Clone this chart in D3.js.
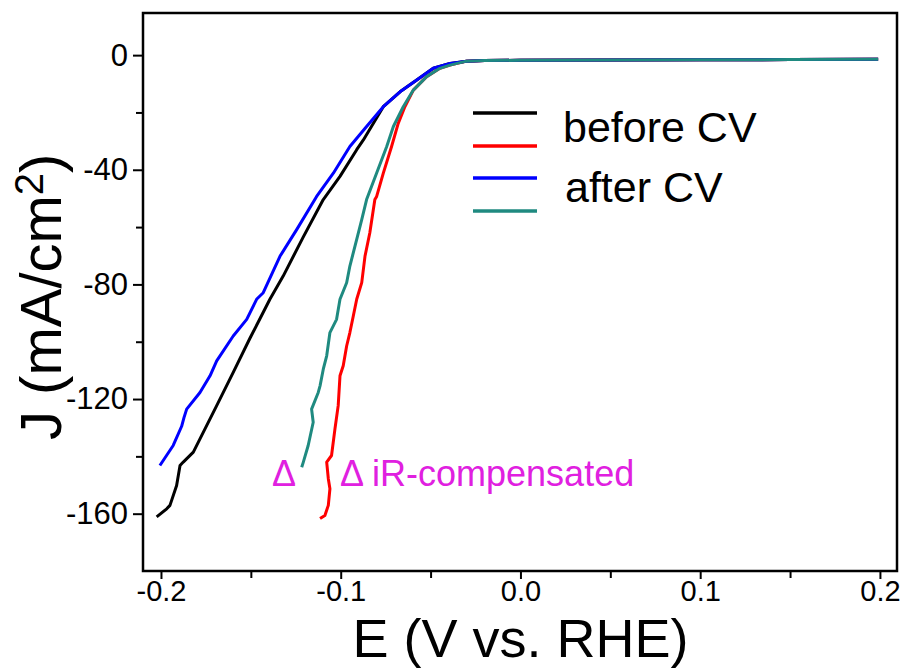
<!DOCTYPE html>
<html>
<head>
<meta charset="utf-8">
<script src="https://cdn.jsdelivr.net/npm/d3@7"></script>
<style>
  body { margin: 0; background: #fff; }
  svg text { font-family: "Liberation Sans", Arial, sans-serif; }
</style>
</head>
<body>
<div id="chart"></div>
<script>
// [E (V vs. RHE), J (mA/cm2)]
const flatTail = [[-0.03, -2.1], [-0.02, -1.9], [0.0, -1.8], [0.05, -1.7], [0.1, -1.65], [0.15, -1.55], [0.199, -1.45]];

const beforeCV = [
    [-0.2024, -161.1], [-0.1968, -158.3], [-0.195, -157.1], [-0.1913, -150.2], [-0.1894, -143.2],
    [-0.1876, -142], [-0.182, -138.5], [-0.1783, -133.9], [-0.169, -122.3], [-0.1598, -110.7],
    [-0.1505, -98.8], [-0.1394, -85.2], [-0.132, -77.1], [-0.1208, -63.4], [-0.1097, -50.4],
    [-0.1004, -42.3], [-0.0911, -33], [-0.0874, -29.6], [-0.0763, -18], [-0.067, -12.8],
    [-0.0577, -8.7], [-0.0485, -4.6], [-0.0392, -2.9]
].concat(flatTail);

const beforeCVir = [
    [-0.1115, -161.7], [-0.1088, -160.6], [-0.1069, -157.1], [-0.106, -151.3], [-0.1069, -147.8],
    [-0.1078, -142], [-0.1051, -139.7], [-0.1032, -130.4], [-0.1014, -122.3], [-0.1004, -111.9],
    [-0.0986, -108.4], [-0.0967, -101.5], [-0.0949, -96.8], [-0.093, -91], [-0.0911, -85.2],
    [-0.0883, -79.4], [-0.0865, -70.2], [-0.0838, -62], [-0.081, -50.4],
    [-0.08, -49.3], [-0.0763, -41.2], [-0.0717, -31.9], [-0.068, -23.8], [-0.0643, -18],
    [-0.0596, -12.2], [-0.0522, -7.5], [-0.0448, -4.6], [-0.0392, -3.5]
].concat(flatTail);

const afterCV = [
    [-0.2006, -143.2], [-0.1932, -136.2], [-0.1885, -129.5], [-0.1872, -126.5], [-0.1857, -123.5],
    [-0.1783, -117.7], [-0.1727, -111.9], [-0.169, -106.7], [-0.1598, -98], [-0.1523, -92.2],
    [-0.1468, -85.2], [-0.1431, -82.9], [-0.1338, -70.2], [-0.1245, -60.9], [-0.1134, -49.3],
    [-0.1041, -41.2], [-0.0949, -31.9], [-0.0856, -24.9], [-0.0763, -18], [-0.067, -12.8],
    [-0.0577, -8.7], [-0.0485, -4.6], [-0.0392, -2.9]
].concat(flatTail);

const afterCVir = [
    [-0.1217, -143.8], [-0.1208, -142], [-0.1181, -136.2], [-0.1153, -128.1], [-0.1162, -123.5],
    [-0.1125, -117.7], [-0.1115, -115.4], [-0.1097, -109.6], [-0.1078, -104.9], [-0.106, -96.8],
    [-0.1023, -92.2], [-0.1004, -85.2], [-0.0967, -79.4], [-0.0949, -73.6], [-0.0911, -64.3],
    [-0.0883, -57.4], [-0.0856, -50.4], [-0.08, -41.1], [-0.0744, -31.9], [-0.0707, -24.9],
    [-0.0652, -18], [-0.0596, -12.2], [-0.0522, -7.5], [-0.0448, -4.6], [-0.0392, -3.5]
].concat(flatTail);

const seriesList = [
    { name: "before CV", data: beforeCV, color: "#000000" },
    { name: "before CV iR", data: beforeCVir, color: "#ff0000" },
    { name: "after CV", data: afterCV, color: "#0000ff" },
    { name: "after CV iR", data: afterCVir, color: "#1f8a80" }
];

const xMajor = [-0.2, -0.1, 0.0, 0.1, 0.2];
const xMinor = [-0.15, -0.05, 0.05, 0.15];
const yMajor = [0, -40, -80, -120, -160];
const yMinor = [-20, -60, -100, -140];
const legendLabels = ["before CV", "after CV"];

const width = 911, height = 668;
const margin = { top: 13, right: 14, bottom: 97, left: 143 };

const svg = d3.select("#chart").append("svg")
    .attr("width", width)
    .attr("height", height);

const x = d3.scaleLinear()
    .domain([-0.21, 0.2095])
    .range([margin.left, width - margin.right]);

const y = d3.scaleLinear()
    .domain([-180, 14.7])
    .range([height - margin.bottom, margin.top]);

// plain hyphen instead of d3's unicode minus
const fmtX = d => d.toFixed(1).replace("\u2212", "-");
const fmtY = d => String(d);

// minor ticks
svg.append("g")
    .attr("transform", `translate(0,${height - margin.bottom})`)
    .call(d3.axisBottom(x).tickValues(xMinor).tickSize(7).tickFormat(""))
    .call(g => g.select(".domain").remove());
svg.append("g")
    .attr("transform", `translate(${margin.left},0)`)
    .call(d3.axisLeft(y).tickValues(yMinor).tickSize(7).tickFormat(""))
    .call(g => g.select(".domain").remove());

// major ticks + labels
const xAxis = svg.append("g")
    .attr("transform", `translate(0,${height - margin.bottom})`)
    .call(d3.axisBottom(x).tickValues(xMajor).tickSize(8).tickPadding(1).tickFormat(fmtX));
xAxis.select(".domain").remove();
xAxis.selectAll("text").attr("font-size", "29px").attr("fill", "#000");

const yAxis = svg.append("g")
    .attr("transform", `translate(${margin.left},0)`)
    .call(d3.axisLeft(y).tickValues(yMajor).tickSize(10).tickPadding(5).tickFormat(fmtY));
yAxis.select(".domain").remove();
yAxis.selectAll("text").attr("font-size", "31px").attr("fill", "#000");

svg.selectAll(".tick line").attr("stroke", "#000").attr("stroke-width", 2);

// curves
const line = d3.line()
    .x(d => x(d[0]))
    .y(d => y(d[1]));

svg.selectAll(".curve")
    .data(seriesList)
    .enter()
    .append("path")
    .attr("class", "curve")
    .attr("d", d => line(d.data))
    .attr("fill", "none")
    .attr("stroke", d => d.color)
    .attr("stroke-width", 3)
    .attr("stroke-linejoin", "round");

// frame
svg.append("rect")
    .attr("x", margin.left)
    .attr("y", margin.top)
    .attr("width", width - margin.left - margin.right)
    .attr("height", height - margin.top - margin.bottom)
    .attr("fill", "none")
    .attr("stroke", "#000")
    .attr("stroke-width", 2.5);

// legend
const legendY = [113, 146, 178, 211];
seriesList.forEach((s, i) => {
    svg.append("line")
        .attr("x1", 473).attr("x2", 537)
        .attr("y1", legendY[i]).attr("y2", legendY[i])
        .attr("stroke", s.color)
        .attr("stroke-width", 3.5);
});
svg.append("text").attr("x", 563).attr("y", 142).attr("font-size", "43px").text(legendLabels[0]);
svg.append("text").attr("x", 565).attr("y", 202).attr("font-size", "43px").text(legendLabels[1]);

// annotations
svg.append("text").attr("x", 272).attr("y", 486).attr("font-size", "36px").attr("fill", "#e020e0").text("Δ");
svg.append("text").attr("x", 340).attr("y", 486).attr("font-size", "36px").attr("fill", "#e020e0").text("Δ iR-compensated");

// axis titles
svg.append("text")
    .attr("x", (x(-0.21) + x(0.2095)) / 2 + 0.5)
    .attr("y", 656.5)
    .attr("text-anchor", "middle")
    .attr("font-size", "54px")
    .text("E (V vs. RHE)");

const yTitle = svg.append("text")
    .attr("transform", "translate(61,440) rotate(-90)")
    .attr("text-anchor", "start")
    .attr("font-size", "58px");
yTitle.append("tspan").text("J (mA/cm");
yTitle.append("tspan").attr("font-size", "40px").attr("dy", -18).text("2");
yTitle.append("tspan").attr("dy", 18).text(")");
</script>
</body>
</html>
